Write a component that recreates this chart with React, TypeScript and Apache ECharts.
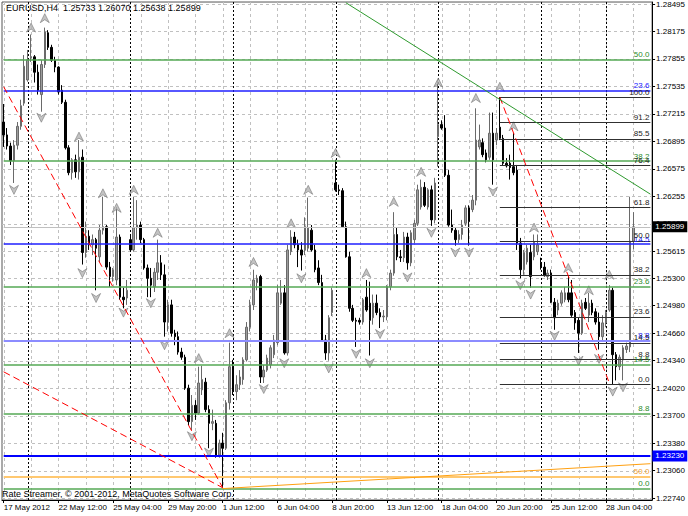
import React, { useEffect, useRef } from 'react';
import * as echarts from 'echarts';

const symbolName = 'EURUSD,H4';
const copyright = 'Rate Streamer, \u00A9 2001-2012, MetaQuotes Software Corp.';

const opens = [
  1.2712, 1.2697, 1.2684, 1.2667, 1.2685, 1.2707, 1.2734, 1.2761, 1.2787, 1.2788,
  1.2770, 1.2744, 1.2779, 1.2816, 1.2799, 1.2784, 1.2776, 1.2749, 1.2735, 1.2682,
  1.2653, 1.2668, 1.2654, 1.2671, 1.2560, 1.2579, 1.2569, 1.2575, 1.2555, 1.2586,
  1.2590, 1.2543, 1.2532, 1.2528, 1.2578, 1.2508, 1.2507, 1.2575, 1.2563, 1.2589,
  1.2592, 1.2575, 1.2542, 1.2530, 1.2520, 1.2537, 1.2548, 1.2534, 1.2479, 1.2499,
  1.2466, 1.2462, 1.2444, 1.2438, 1.2402, 1.2363, 1.2382, 1.2373, 1.2400, 1.2409,
  1.2377, 1.2361, 1.2361, 1.2324, 1.2338, 1.2332, 1.2385, 1.2427, 1.2398, 1.2406,
  1.2412, 1.2435, 1.2473, 1.2499, 1.2525, 1.2532, 1.2415, 1.2423, 1.2429, 1.2441,
  1.2455, 1.2501, 1.2513, 1.2443, 1.2561, 1.2578, 1.2569, 1.2563, 1.2563, 1.2565,
  1.2586, 1.2563, 1.2542, 1.2525, 1.2458, 1.2443, 1.2490, 1.2641, 1.2633, 1.2632,
  1.2590, 1.2555, 1.2495, 1.2481, 1.2481, 1.2479, 1.2508, 1.2501, 1.2484, 1.2501,
  1.2490, 1.2485, 1.2485, 1.2520, 1.2536, 1.2581, 1.2555, 1.2554, 1.2578, 1.2548,
  1.2575, 1.2594, 1.2613, 1.2636, 1.2613, 1.2633, 1.2598, 1.2695, 1.2709, 1.2705,
  1.2650, 1.2592, 1.2586, 1.2575, 1.2581, 1.2594, 1.2612, 1.2610, 1.2621, 1.2683,
  1.2688, 1.2676, 1.2671, 1.2699, 1.2691, 1.2706, 1.2693, 1.2664, 1.2664, 1.2660,
  1.2656, 1.2571, 1.2540, 1.2549, 1.2560, 1.2555, 1.2561, 1.2548, 1.2543, 1.2532,
  1.2536, 1.2502, 1.2493, 1.2501, 1.2505, 1.2513, 1.2513, 1.2490, 1.2481, 1.2466,
  1.2502, 1.2487, 1.2501, 1.2491, 1.2479, 1.2462, 1.2478, 1.2493, 1.2516, 1.2441,
  1.2427, 1.2435, 1.2447, 1.2450, 1.25733,
];
const highs = [
  1.2733, 1.2705, 1.2688, 1.2691, 1.2712, 1.2738, 1.2790, 1.2796, 1.2814, 1.2790,
  1.2779, 1.2784, 1.2822, 1.2819, 1.2802, 1.2788, 1.2777, 1.2755, 1.2738, 1.2685,
  1.2670, 1.2674, 1.2691, 1.2680, 1.2596, 1.2586, 1.2581, 1.2577, 1.2592, 1.2625,
  1.2592, 1.2549, 1.2542, 1.2613, 1.2581, 1.2519, 1.2528, 1.2581, 1.2625, 1.2621,
  1.2596, 1.2577, 1.2546, 1.2542, 1.2542, 1.2575, 1.2557, 1.2546, 1.2505, 1.2505,
  1.2470, 1.2468, 1.2449, 1.2441, 1.2406, 1.2394, 1.2388, 1.2427, 1.2428, 1.2414,
  1.2382, 1.2377, 1.2365, 1.2342, 1.2350, 1.2388, 1.2455, 1.2435, 1.2417, 1.2423,
  1.2438, 1.2479, 1.2505, 1.2540, 1.2534, 1.2534, 1.2429, 1.2441, 1.2452, 1.2464,
  1.2522, 1.2528, 1.2522, 1.2569, 1.2586, 1.2584, 1.2575, 1.2572, 1.2601, 1.2624,
  1.2592, 1.2569, 1.2551, 1.2534, 1.2464, 1.2487, 1.2519, 1.2668, 1.2639, 1.2635,
  1.2596, 1.2561, 1.2499, 1.2484, 1.2484, 1.2507, 1.2528, 1.2526, 1.2511, 1.2511,
  1.2495, 1.2493, 1.2522, 1.2540, 1.2607, 1.2589, 1.2563, 1.2584, 1.2583, 1.2586,
  1.2598, 1.2639, 1.2645, 1.2642, 1.2635, 1.2638, 1.2647, 1.2761, 1.2714, 1.2720,
  1.2656, 1.2610, 1.2589, 1.2586, 1.2598, 1.2615, 1.2615, 1.2627, 1.2728, 1.2709,
  1.2693, 1.2680, 1.2723, 1.2723, 1.2705, 1.2741, 1.2697, 1.2670, 1.2674, 1.2699,
  1.2662, 1.2577, 1.2563, 1.2569, 1.2569, 1.2581, 1.2581, 1.2554, 1.2549, 1.2540,
  1.2540, 1.2507, 1.2505, 1.2516, 1.2520, 1.2532, 1.2528, 1.2493, 1.2484, 1.2505,
  1.2507, 1.2513, 1.2505, 1.2495, 1.2490, 1.2487, 1.2493, 1.2522, 1.2519, 1.2444,
  1.2441, 1.2452, 1.2455, 1.2625, 1.26070,
];
const lows = [
  1.2683, 1.2680, 1.2662, 1.2641, 1.2680, 1.2703, 1.2731, 1.2759, 1.2782, 1.2758,
  1.2744, 1.2724, 1.2775, 1.2796, 1.2782, 1.2770, 1.2744, 1.2733, 1.2680, 1.2650,
  1.2645, 1.2647, 1.2645, 1.2546, 1.2554, 1.2563, 1.2557, 1.2516, 1.2549, 1.2581,
  1.2540, 1.2520, 1.2526, 1.2522, 1.2505, 1.2495, 1.2499, 1.2561, 1.2561, 1.2575,
  1.2571, 1.2540, 1.2508, 1.2508, 1.2514, 1.2528, 1.2528, 1.2462, 1.2468, 1.2462,
  1.2452, 1.2441, 1.2435, 1.2400, 1.2359, 1.2353, 1.2365, 1.2371, 1.2394, 1.2374,
  1.2332, 1.2353, 1.2321, 1.2321, 1.2286, 1.2330, 1.2377, 1.2394, 1.2388, 1.2400,
  1.2406, 1.2433, 1.2468, 1.2493, 1.2516, 1.2408, 1.2408, 1.2421, 1.2425, 1.2437,
  1.2452, 1.2499, 1.2441, 1.2440, 1.2557, 1.2565, 1.2543, 1.2539, 1.2557, 1.2561,
  1.2561, 1.2537, 1.2522, 1.2456, 1.2435, 1.2434, 1.2486, 1.2631, 1.2627, 1.2589,
  1.2554, 1.2491, 1.2479, 1.2450, 1.2476, 1.2476, 1.2491, 1.2440, 1.2476, 1.2487,
  1.2472, 1.2479, 1.2481, 1.2516, 1.2533, 1.2551, 1.2549, 1.2549, 1.2540, 1.2544,
  1.2571, 1.2591, 1.2610, 1.2613, 1.2610, 1.2591, 1.2594, 1.2660, 1.2703, 1.2648,
  1.2590, 1.2583, 1.2568, 1.2571, 1.2575, 1.2591, 1.2568, 1.2607, 1.2615, 1.2680,
  1.2671, 1.2665, 1.2668, 1.2639, 1.2685, 1.2691, 1.2662, 1.2659, 1.2645, 1.2650,
  1.2563, 1.2530, 1.2534, 1.2546, 1.2519, 1.2551, 1.2557, 1.2540, 1.2532, 1.2528,
  1.2501, 1.2470, 1.2487, 1.2498, 1.2502, 1.2502, 1.2485, 1.2470, 1.2443, 1.2464,
  1.2493, 1.2479, 1.2487, 1.2476, 1.2447, 1.2458, 1.2473, 1.2491, 1.2406, 1.2411,
  1.2423, 1.2411, 1.2443, 1.2444, 1.25638,
];
const closes = [
  1.2697, 1.2684, 1.2667, 1.2685, 1.2707, 1.2731, 1.2777, 1.2784, 1.2788, 1.2770,
  1.2749, 1.2779, 1.2817, 1.2799, 1.2784, 1.2776, 1.2747, 1.2735, 1.2682, 1.2653,
  1.2668, 1.2654, 1.2671, 1.2560, 1.2579, 1.2569, 1.2575, 1.2565, 1.2586, 1.2590,
  1.2543, 1.2532, 1.2540, 1.2578, 1.2508, 1.2505, 1.2516, 1.2563, 1.2589, 1.2592,
  1.2575, 1.2542, 1.2530, 1.2522, 1.2537, 1.2548, 1.2534, 1.2479, 1.2499, 1.2466,
  1.2462, 1.2444, 1.2438, 1.2402, 1.2363, 1.2382, 1.2373, 1.2408, 1.2412, 1.2377,
  1.2361, 1.2363, 1.2324, 1.2338, 1.2332, 1.2385, 1.2427, 1.2398, 1.2406, 1.2415,
  1.2435, 1.2473, 1.2499, 1.2528, 1.2530, 1.2415, 1.2423, 1.2437, 1.2449, 1.2458,
  1.2513, 1.2513, 1.2443, 1.2563, 1.2578, 1.2569, 1.2563, 1.2557, 1.2590, 1.2589,
  1.2563, 1.2540, 1.2525, 1.2458, 1.2443, 1.2484, 1.2516, 1.2633, 1.2632, 1.2590,
  1.2555, 1.2495, 1.2481, 1.2480, 1.2479, 1.2505, 1.2493, 1.2481, 1.2501, 1.2490,
  1.2485, 1.2486, 1.2520, 1.2536, 1.2581, 1.2555, 1.2554, 1.2578, 1.2548, 1.2583,
  1.2594, 1.2633, 1.2636, 1.2615, 1.2633, 1.2598, 1.2641, 1.2709, 1.2705, 1.2650,
  1.2592, 1.2586, 1.2575, 1.2581, 1.2592, 1.2612, 1.2596, 1.2621, 1.2691, 1.2691,
  1.2674, 1.2668, 1.2699, 1.2668, 1.2699, 1.2693, 1.2664, 1.2661, 1.2659, 1.2653,
  1.2571, 1.2540, 1.2560, 1.2565, 1.2532, 1.2572, 1.2569, 1.2543, 1.2533, 1.2536,
  1.2502, 1.2484, 1.2501, 1.2513, 1.2513, 1.2505, 1.2487, 1.2478, 1.2466, 1.2501,
  1.2495, 1.2501, 1.2490, 1.2479, 1.2462, 1.2478, 1.2490, 1.2516, 1.2441, 1.2427,
  1.2438, 1.2449, 1.2451, 1.25733, 1.25899,
];

const emptySlots = 5;

const tickBars = [0, 16, 32, 48, 64, 80, 96, 112, 128, 144, 160, 176];
const tickLabels = [
  '17 May 2012', '22 May 12:00', '25 May 04:00', '29 May 20:00', '1 Jun 12:00', '6 Jun 04:00',
  '8 Jun 20:00', '13 Jun 12:00', '18 Jun 04:00', '20 Jun 20:00', '25 Jun 12:00', '28 Jun 04:00',
];
const separatorBars = [7, 37, 67, 97, 127, 157, 176];

const priceMin = 1.22717;
const priceMax = 1.28518;
const priceTicks = [
  1.28495, 1.28175, 1.27855, 1.27535, 1.27215, 1.26895, 1.26575, 1.26255, 1.25935, 1.25615,
  1.253, 1.2498, 1.2466, 1.2434, 1.2402, 1.237, 1.2338, 1.2306, 1.2274,
];

const upFractalBars = [8, 12, 22, 29, 33, 38, 45, 57, 66, 73, 84, 89, 97, 106, 114, 122, 127, 138, 145, 149, 155, 165, 171, 177];
const upFractalPrices = [
  1.2822, 1.2833, 1.2695, 1.2629, 1.2612, 1.2633, 1.2583, 1.2437, 1.2466, 1.2549, 1.2594, 1.2633,
  1.2676, 1.2536, 1.2619, 1.2654, 1.2758, 1.2740, 1.2753, 1.2707, 1.2589, 1.2542, 1.2516, 1.2534,
];
const downFractalBars = [3, 11, 23, 27, 35, 43, 47, 55, 60, 76, 82, 87, 95, 103, 107, 110, 118, 125, 132, 136, 143, 151, 154, 161, 168, 174, 178, 181];
const downFractalPrices = [
  1.2633, 1.2717, 1.2536, 1.2507, 1.2490, 1.2501, 1.2452, 1.2346, 1.2327, 1.2401, 1.2431, 1.2530,
  1.2425, 1.2442, 1.2431, 1.2465, 1.2531, 1.2583, 1.2560, 1.2560, 1.2631, 1.2522, 1.2511, 1.2463,
  1.2434, 1.2436, 1.2398, 1.2403,
];

const greenFibLevels = [1.27843, 1.26665, 1.25205, 1.24298, 1.23725, 1.22851];
const greenFibLabels = ['50.0', '38.2', '23.6', '14.5', '8.8', '0.0'];
const blueFibLevels = [1.27488, 1.25699];
const blueFibLabels = ['23.6', '14.5'];
const lightBlueLevel = 1.2457;
const lightBlueLabel = '8.8';
const blackFibLevels = [1.2741, 1.27115, 1.26924, 1.26619, 1.2613, 1.25735, 1.2534, 1.24851, 1.24546, 1.24355, 1.2406];
const blackFibLabels = ['100.0', '91.2', '85.5', '76.4', '61.8', '50.0', '38.2', '23.6', '14.5', '8.8', '0.0'];
const blackFibStartBar = 145;
const orangeLevel = 1.22985;
const orangeLabel = '50.0';
const supportLevel = 1.2323;

// trend lines: [startBar, startPrice, endBar, endPrice]
const redTrendLines = [
  [0, 1.2753, 64, 1.2286],
  [0, 1.2421, 64, 1.2286],
  [145, 1.2741, 177, 1.2408],
];
const greenTrendLine = [100, 1.2851, 189, 1.2628];
const orangeTrendLine = [64, 1.2285, 189, 1.2314];

const FONT = '"Liberation Sans", Arial, sans-serif';

export default function App() {
  const ref = useRef<HTMLDivElement>(null);

  useEffect(() => {
    document.body.style.margin = '0';
    if (!ref.current) return;
    const chart = echarts.init(ref.current, undefined, { renderer: 'svg' });

    const n = opens.length;
    const totalCats = n + emptySlots;
    const lastCat = totalCats - 1;
    const categories = Array.from({ length: totalCats }, (_, i) => String(i));
    const candles = opens.map((o, i) => [o, closes[i], lows[i], highs[i]]);
    const last = n - 1;

    const hLine = (v: number, lineStyle: any, label: any, from = 0) => [
      { coord: [from, v], lineStyle, label },
      { coord: [lastCat, v] },
    ];

    const lbl = (text: string, color: string) => ({
      show: true,
      position: 'insideEndTop',
      formatter: text,
      color,
      fontSize: 8,
      fontFamily: FONT,
      distance: [1, 1],
    });
    const tag = (text: string, bg: string) => ({
      show: true, position: 'end', formatter: text, color: '#fff',
      backgroundColor: bg, padding: [2, 3, 1, 3], fontSize: 8, fontFamily: FONT, distance: 2,
    });

    const objLines: any[] = [];
    greenFibLevels.forEach((v, k) =>
      objLines.push(hLine(v, { color: '#55a855', width: 1.5, type: 'solid' }, lbl(greenFibLabels[k], '#2a8a2a')))
    );
    blueFibLevels.forEach((v, k) =>
      objLines.push(hLine(v, { color: '#1f1fff', width: 1.5, type: 'solid' }, lbl(blueFibLabels[k], '#2020ff')))
    );
    objLines.push(hLine(lightBlueLevel, { color: '#8c8cff', width: 2, type: 'solid' }, lbl(lightBlueLabel, '#2020ff')));
    objLines.push(hLine(orangeLevel, { color: '#ffc870', width: 2, type: 'solid' }, lbl(orangeLabel, '#f0a030')));
    objLines.push(hLine(closes[last], { color: '#c0c0c0', width: 1, type: 'solid' }, tag(closes[last].toFixed(5), '#000')));
    objLines.push(hLine(supportLevel, { color: '#0000ff', width: 2, type: 'solid' }, tag(supportLevel.toFixed(5), '#0000ff')));
    blackFibLevels.forEach((v, k) =>
      objLines.push(hLine(v, { color: '#303030', width: 1.2, type: 'solid' }, lbl(blackFibLabels[k], '#202020'), blackFibStartBar))
    );
    redTrendLines.forEach((t) =>
      objLines.push([
        { coord: [t[0], t[1]], lineStyle: { color: '#ff0000', width: 1, type: [7, 4] }, label: { show: false } },
        { coord: [t[2], t[3]] },
      ])
    );
    objLines.push([
      { coord: [greenTrendLine[0], greenTrendLine[1]], lineStyle: { color: '#2e9a2e', width: 1, type: 'solid' }, label: { show: false } },
      { coord: [greenTrendLine[2], greenTrendLine[3]] },
    ]);
    objLines.push([
      { coord: [orangeTrendLine[0], orangeTrendLine[1]], lineStyle: { color: '#ffa010', width: 1, type: 'solid' }, label: { show: false } },
      { coord: [orangeTrendLine[2], orangeTrendLine[3]] },
    ]);

    const upPath = 'path://M4.5,0 L9,9 L4.5,6 L0,9 Z';
    const downPath = 'path://M4.5,9 L9,0 L4.5,3 L0,0 Z';

    const header = `${symbolName}  ${opens[last].toFixed(5)} ${highs[last].toFixed(5)} ${lows[last].toFixed(5)} ${closes[last].toFixed(5)}`;

    chart.setOption({
      animation: false,
      backgroundColor: '#ffffff',
      grid: { left: 2, right: 35, top: 2, bottom: 16, show: true, borderColor: '#555', borderWidth: 1, backgroundColor: 'transparent' },
      xAxis: {
        type: 'category',
        data: categories,
        boundaryGap: true,
        axisLine: { show: true, lineStyle: { color: '#000', width: 1 } },
        axisTick: {
          show: true,
          length: 3,
          alignWithLabel: true,
          interval: (i: number) => tickBars.indexOf(i) >= 0,
          lineStyle: { color: '#000' },
        },
        axisLabel: {
          interval: (i: number) => tickBars.indexOf(i) >= 0,
          formatter: (_v: string, i: number) => {
            const k = tickBars.indexOf(i);
            return k >= 0 ? tickLabels[k] : '';
          },
          align: 'left',
          margin: 3,
          color: '#000',
          fontSize: 8,
          fontFamily: FONT,
        },
        splitLine: { show: false },
      },
      yAxis: {
        type: 'value',
        position: 'right',
        min: priceMin,
        max: priceMax,
        axisLine: { show: true, lineStyle: { color: '#000', width: 1 } },
        axisTick: { show: true, length: 3, customValues: priceTicks, lineStyle: { color: '#000' } },
        axisLabel: {
          customValues: priceTicks,
          formatter: (v: number) => v.toFixed(5),
          color: '#000',
          fontSize: 8,
          fontFamily: FONT,
          margin: 4,
        },
        splitLine: { show: false },
      },
      series: [
        {
          type: 'candlestick',
          data: candles,
          z: 2,
          barWidth: 2,
          itemStyle: {
            color: '#9c9c9c',
            color0: '#000000',
            borderColor: '#6a6a6a',
            borderColor0: '#000000',
            borderWidth: 1,
          },
        },
        {
          type: 'line',
          data: closes,
          z: 3,
          silent: true,
          showSymbol: false,
          symbol: 'none',
          lineStyle: { opacity: 0, width: 0 },
          markLine: { silent: true, symbol: ['none', 'none'], animation: false, data: objLines },
        },
        {
          type: 'scatter',
          z: 4,
          symbol: upPath,
          symbolSize: [9, 9],
          data: upFractalBars.map((b, k) => [b, upFractalPrices[k]]),
          itemStyle: { color: '#b4b4b4', borderColor: '#6e6e6e', borderWidth: 0.7 },
        },
        {
          type: 'scatter',
          z: 4,
          symbol: downPath,
          symbolSize: [9, 9],
          data: downFractalBars.map((b, k) => [b, downFractalPrices[k]]),
          itemStyle: { color: '#b4b4b4', borderColor: '#6e6e6e', borderWidth: 0.7 },
        },
      ],
    });

    // Grid and period separators: positions taken from the chart's own scales, snapped to pixels.
    const toPx = (x: number, y: number) => chart.convertToPixel({ gridIndex: 0 }, [x, y]) as number[];
    const p0 = toPx(0, priceMin);
    const p1 = toPx(1, priceMin);
    const catW = p1[0] - p0[0];
    const leftPx = Math.round(p0[0] - catW / 2);
    const rightPx = Math.round(toPx(lastCat, priceMin)[0] + catW / 2);
    const topPx = Math.round(toPx(0, priceMax)[1]);
    const bottomPx = Math.round(toPx(0, priceMin)[1]);
    const snap = (v: number) => Math.round(v) + 0.5;

    const gridEls: any[] = [];
    priceTicks.forEach((v) => {
      const y = snap(toPx(0, v)[1]);
      gridEls.push({
        type: 'line', silent: true, z: 0,
        shape: { x1: leftPx, y1: y, x2: rightPx, y2: y },
        style: { stroke: '#c0c0c0', lineWidth: 1, lineDash: [3, 3] },
      });
    });
    for (let b = 0; b < n; b += 8) {
      const x = snap(toPx(b, priceMin)[0]);
      gridEls.push({
        type: 'line', silent: true, z: 0,
        shape: { x1: x, y1: topPx, x2: x, y2: bottomPx },
        style: { stroke: '#c0c0c0', lineWidth: 1, lineDash: [3, 3] },
      });
    }
    separatorBars.forEach((b) => {
      const x = snap(toPx(b, priceMin)[0]);
      gridEls.push({
        type: 'line', silent: true, z: 0,
        shape: { x1: x, y1: topPx, x2: x, y2: bottomPx },
        style: { stroke: '#000000', lineWidth: 1, lineDash: [2, 2] },
      });
    });

    chart.setOption({
      graphic: [
        ...gridEls,
        { type: 'text', left: 6, top: 3, z: 100, style: { text: header, fill: '#000', font: `9px ${FONT}` } },
        { type: 'text', left: 2, top: 489, z: 100, style: { text: copyright, fill: '#000', font: `9px ${FONT}` } },
      ],
    });

    return () => chart.dispose();
  }, []);

  return <div ref={ref} style={{ width: 688, height: 516 }} />;
}
